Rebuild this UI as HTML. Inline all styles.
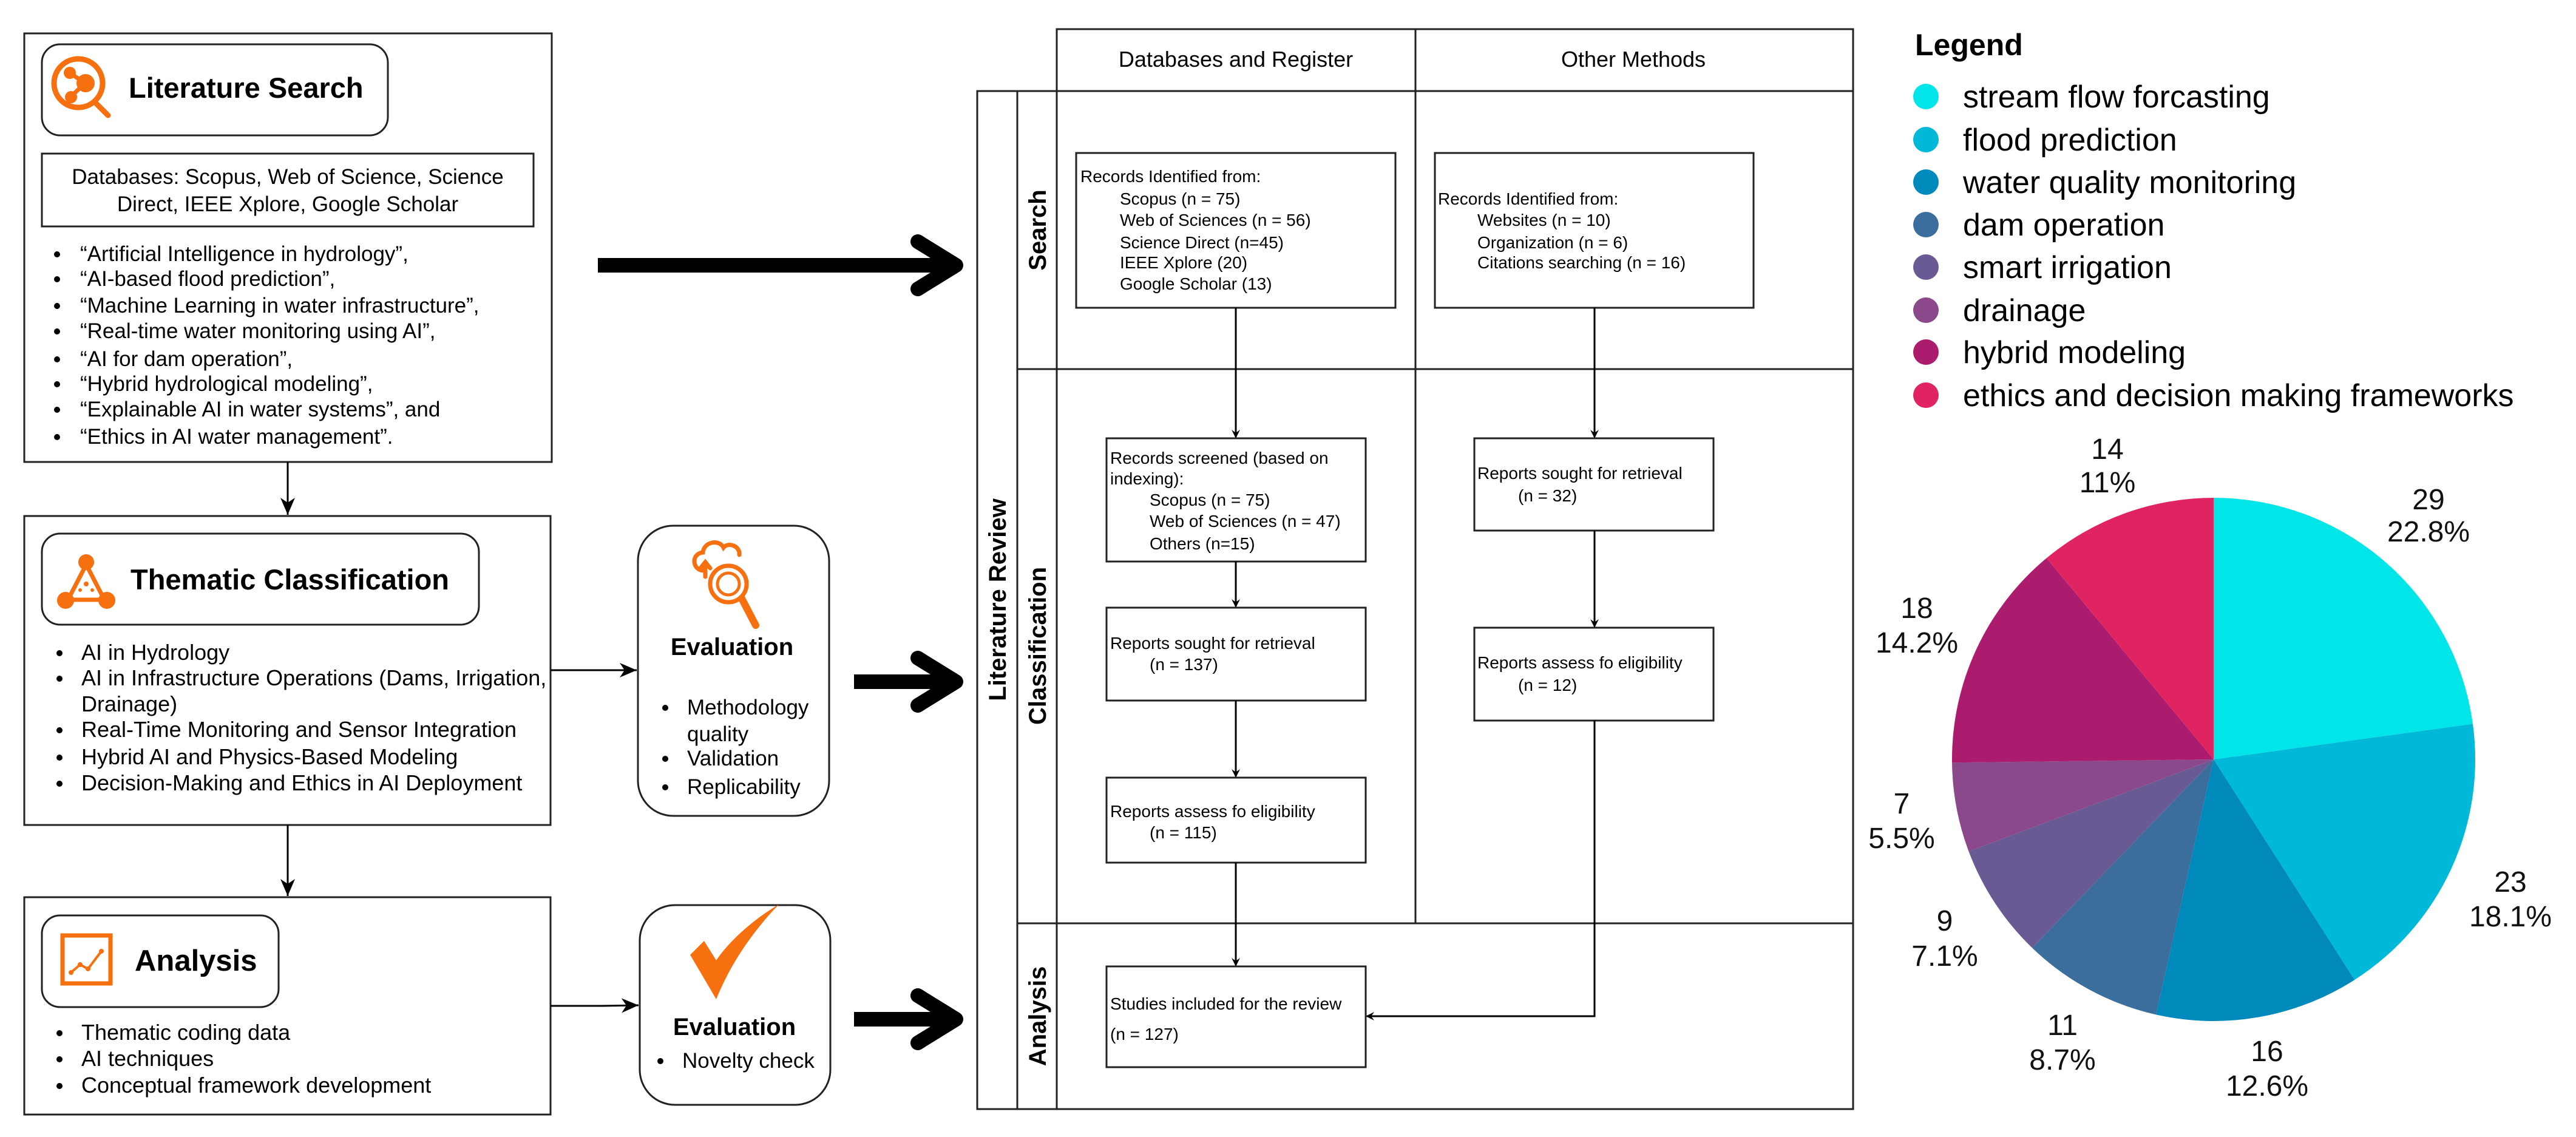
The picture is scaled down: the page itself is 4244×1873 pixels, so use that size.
<!DOCTYPE html>
<html><head><meta charset="utf-8"><style>
html,body{margin:0;padding:0;background:#fff;}
svg{display:block;font-family:"Liberation Sans",Arial,sans-serif;}
</style></head><body>
<svg width="4244" height="1873" viewBox="0 0 4244 1873" xmlns="http://www.w3.org/2000/svg">
<defs>
<marker id="ah" markerWidth="14" markerHeight="14" refX="12" refY="7" orient="auto" markerUnits="userSpaceOnUse">
<path d="M0,0 L14,7 L0,14 L5,7 Z" fill="#000"/>
</marker>
<marker id="ah2" markerWidth="30" markerHeight="30" refX="28" refY="15" orient="auto" markerUnits="userSpaceOnUse">
<path d="M0,3 L28,15 L0,27 L8,15 Z" fill="#000"/>
</marker>
</defs>
<rect width="4244" height="1873" fill="#fff"/>

<g fill="none" stroke="#222" stroke-width="3">
<rect x="40" y="55" width="869" height="706"/>
<rect x="69" y="73" width="570" height="150" rx="30"/>
<rect x="69" y="253" width="810" height="120"/>
<rect x="40" y="850" width="867" height="509"/>
<rect x="69" y="879" width="720" height="150" rx="30"/>
<rect x="40" y="1478" width="867" height="358"/>
<rect x="69" y="1508" width="390" height="151" rx="30"/>
<rect x="1051" y="866" width="315" height="478" rx="58"/>
<rect x="1054" y="1491" width="314" height="329" rx="58"/>
</g>

<g fill="#f7700f" stroke="#f7700f">
<circle cx="129" cy="137" r="40" fill="none" stroke-width="9"/>
<line x1="157" y1="169" x2="178" y2="190" stroke-width="9" stroke-linecap="round"/>
<line x1="115" y1="120" x2="140" y2="137" stroke-width="7"/>
<line x1="117" y1="159" x2="140" y2="137" stroke-width="7"/>
<circle cx="115" cy="120" r="10" stroke="none"/>
<circle cx="117" cy="160" r="10" stroke="none"/>
<circle cx="141" cy="137" r="15" stroke="none"/>
</g>
<text x="212" y="161" font-size="47" font-weight="bold">Literature Search</text>
<g font-size="35" text-anchor="middle">
<text x="474" y="303">Databases: Scopus, Web of Science, Science</text>
<text x="474" y="348">Direct, IEEE Xplore, Google Scholar</text>
</g>
<g font-size="35">
<text x="132" y="430">“Artificial Intelligence in hydrology”,</text>
<text x="132" y="471">“AI-based flood prediction”,</text>
<text x="132" y="515">“Machine Learning in water infrastructure”,</text>
<text x="132" y="557">“Real-time water monitoring using AI”,</text>
<text x="132" y="603">“AI for dam operation”,</text>
<text x="132" y="644">“Hybrid hydrological modeling”,</text>
<text x="132" y="686">“Explainable AI in water systems”, and</text>
<text x="132" y="731">“Ethics in AI water management”.</text>
</g>
<g fill="#000">
<circle cx="94" cy="419" r="5"/><circle cx="94" cy="460" r="5"/><circle cx="94" cy="504" r="5"/><circle cx="94" cy="546" r="5"/>
<circle cx="94" cy="592" r="5"/><circle cx="94" cy="633" r="5"/><circle cx="94" cy="675" r="5"/><circle cx="94" cy="720" r="5"/>
</g>

<g fill="#f7700f" stroke="#f7700f">
<path d="M142 930 L112 988 L172 988 Z" fill="none" stroke-width="7"/>
<circle cx="142" cy="926" r="13" stroke="none"/>
<circle cx="108" cy="989" r="14" stroke="none"/>
<circle cx="176" cy="989" r="14" stroke="none"/>
<circle cx="142" cy="962" r="4" stroke="none"/><circle cx="132" cy="972" r="3" stroke="none"/><circle cx="152" cy="972" r="3" stroke="none"/>
</g>
<text x="215" y="971" font-size="47" font-weight="bold">Thematic Classification</text>
<g font-size="36">
<text x="134" y="1087">AI in Hydrology</text>
<text x="134" y="1129">AI in Infrastructure Operations (Dams, Irrigation,</text>
<text x="134" y="1172">Drainage)</text>
<text x="134" y="1214">Real-Time Monitoring and Sensor Integration</text>
<text x="134" y="1259">Hybrid AI and Physics-Based Modeling</text>
<text x="134" y="1302">Decision-Making and Ethics in AI Deployment</text>
</g>
<g fill="#000">
<circle cx="98" cy="1076" r="5"/><circle cx="98" cy="1118" r="5"/><circle cx="98" cy="1203" r="5"/><circle cx="98" cy="1248" r="5"/><circle cx="98" cy="1291" r="5"/>
</g>

<rect x="103" y="1541" width="79" height="79" fill="none" stroke="#f7700f" stroke-width="7"/>
<polyline points="117,1602 132,1589 145,1596 167,1567" fill="none" stroke="#f7700f" stroke-width="4"/>
<g fill="#f7700f"><circle cx="117" cy="1602" r="4"/><circle cx="132" cy="1589" r="4"/><circle cx="145" cy="1596" r="4"/><circle cx="167" cy="1567" r="4"/></g>
<text x="222" y="1599" font-size="49" font-weight="bold">Analysis</text>
<g font-size="36">
<text x="134" y="1713">Thematic coding data</text>
<text x="134" y="1756">AI techniques</text>
<text x="134" y="1800">Conceptual framework development</text>
</g>
<g fill="#000"><circle cx="98" cy="1702" r="5"/><circle cx="98" cy="1745" r="5"/><circle cx="98" cy="1789" r="5"/></g>

<g fill="none" stroke="#f7700f" stroke-width="7" stroke-linecap="round">
<path d="M1160 940 C1140 940 1138 912 1158 910 C1160 892 1185 888 1192 902 C1200 892 1220 900 1218 914"/>
<path d="M1162 950 L1162 928 M1154 936 L1162 926 L1170 936"/>
<circle cx="1200" cy="962" r="30"/>
<circle cx="1200" cy="962" r="18" stroke-width="5"/>
<line x1="1222" y1="986" x2="1245" y2="1030" stroke-width="12"/>
</g>
<text x="1206" y="1079" font-size="40" font-weight="bold" text-anchor="middle">Evaluation</text>
<g font-size="35">
<text x="1132" y="1177">Methodology</text>
<text x="1132" y="1221">quality</text>
<text x="1132" y="1261">Validation</text>
<text x="1132" y="1308">Replicability</text>
</g>
<g fill="#000"><circle cx="1096" cy="1166" r="5"/><circle cx="1096" cy="1250" r="5"/><circle cx="1096" cy="1297" r="5"/></g>

<path d="M1137 1573 L1160 1550 L1180 1582 C1200 1552 1240 1515 1283 1490 C1240 1535 1205 1585 1180 1646 Z" fill="#f7700f"/>
<text x="1210" y="1705" font-size="40" font-weight="bold" text-anchor="middle">Evaluation</text>
<text x="1124" y="1759" font-size="35">Novelty check</text>
<circle cx="1088" cy="1748" r="5" fill="#000"/>

<g stroke="#000" stroke-width="3" fill="none" marker-end="url(#ah2)">
<line x1="474" y1="761" x2="474" y2="848"/>
<line x1="474" y1="1359" x2="474" y2="1476"/>
<line x1="907" y1="1104" x2="1049" y2="1104"/>
<path d="M907 1657 L990 1657 L1052 1656"/>
</g>

<g stroke="#000" stroke-width="24" fill="none" stroke-linejoin="round">
<line x1="985" y1="437" x2="1570" y2="437" stroke-linecap="butt"/>
<polyline points="1512,398 1575,437 1512,476" stroke-linecap="round"/>
<line x1="1407" y1="1123" x2="1570" y2="1123"/>
<polyline points="1512,1084 1575,1123 1512,1162" stroke-linecap="round"/>
<line x1="1407" y1="1679" x2="1570" y2="1679"/>
<polyline points="1512,1640 1575,1679 1512,1718" stroke-linecap="round"/>
</g>

<g fill="none" stroke="#222" stroke-width="3">
<rect x="1741" y="48" width="1312" height="102"/>
<line x1="2332" y1="48" x2="2332" y2="1521"/>
<rect x="1610" y="150" width="1443" height="1677"/>
<line x1="1676" y1="150" x2="1676" y2="1827"/>
<line x1="1741" y1="150" x2="1741" y2="1827"/>
<line x1="1676" y1="608" x2="3053" y2="608"/>
<line x1="1676" y1="1521" x2="3053" y2="1521"/>
<rect x="1773" y="252" width="526" height="255"/>
<rect x="2364" y="252" width="525" height="255"/>
<rect x="1823" y="722" width="427" height="203"/>
<rect x="2429" y="722" width="394" height="152"/>
<rect x="1823" y="1001" width="427" height="153"/>
<rect x="2429" y="1034" width="394" height="153"/>
<rect x="1823" y="1281" width="427" height="140"/>
<rect x="1823" y="1592" width="427" height="166"/>
</g>
<g font-size="36" text-anchor="middle">
<text x="2036" y="110">Databases and Register</text>
<text x="2691" y="110">Other Methods</text>
</g>
<g font-size="40" font-weight="bold" text-anchor="middle">
<text transform="translate(1657,988) rotate(-90)">Literature Review</text>
<text transform="translate(1723,379) rotate(-90)">Search</text>
<text transform="translate(1723,1064) rotate(-90)">Classification</text>
<text transform="translate(1723,1674) rotate(-90)">Analysis</text>
</g>
<g font-size="28">
<text x="1780" y="300">Records Identified from:</text>
<text x="1845" y="337">Scopus (n = 75)</text>
<text x="1845" y="372">Web of Sciences (n = 56)</text>
<text x="1845" y="409">Science Direct (n=45)</text>
<text x="1845" y="442">IEEE Xplore (20)</text>
<text x="1845" y="477">Google Scholar (13)</text>

<text x="2369" y="337">Records Identified from:</text>
<text x="2434" y="372">Websites (n = 10)</text>
<text x="2434" y="409">Organization (n = 6)</text>
<text x="2434" y="442">Citations searching (n = 16)</text>

<text x="1829" y="764">Records screened (based on</text>
<text x="1829" y="798">indexing):</text>
<text x="1894" y="833">Scopus (n = 75)</text>
<text x="1894" y="868">Web of Sciences (n = 47)</text>
<text x="1894" y="905">Others (n=15)</text>

<text x="2434" y="789">Reports sought for retrieval</text>
<text x="2501" y="826">(n = 32)</text>

<text x="1829" y="1069">Reports sought for retrieval</text>
<text x="1894" y="1104">(n = 137)</text>

<text x="2434" y="1101">Reports assess fo eligibility</text>
<text x="2501" y="1138">(n = 12)</text>

<text x="1829" y="1346">Reports assess fo eligibility</text>
<text x="1894" y="1381">(n = 115)</text>

<text x="1829" y="1663">Studies included for the review</text>
<text x="1829" y="1713">(n = 127)</text>
</g>
<g stroke="#000" stroke-width="3" fill="none" marker-end="url(#ah)">
<line x1="2036" y1="507" x2="2036" y2="720"/>
<line x1="2627" y1="507" x2="2627" y2="720"/>
<line x1="2036" y1="925" x2="2036" y2="999"/>
<line x1="2627" y1="874" x2="2627" y2="1032"/>
<line x1="2036" y1="1154" x2="2036" y2="1279"/>
<line x1="2036" y1="1421" x2="2036" y2="1590"/>
<path d="M2627 1187 L2627 1674 L2252 1674"/>
</g>

<text x="3155" y="91" font-size="50" font-weight="bold">Legend</text>
<g font-size="52">
<circle cx="3173" cy="159" r="21" fill="#00e5e8"/><text x="3234" y="177">stream flow forcasting</text>
<circle cx="3173" cy="230" r="21" fill="#00b8d8"/><text x="3234" y="248">flood prediction</text>
<circle cx="3173" cy="300" r="21" fill="#0089bb"/><text x="3234" y="318">water quality monitoring</text>
<circle cx="3173" cy="370" r="21" fill="#3b6e9c"/><text x="3234" y="388">dam operation</text>
<circle cx="3173" cy="440" r="21" fill="#6a5a94"/><text x="3234" y="458">smart irrigation</text>
<circle cx="3173" cy="511" r="21" fill="#8b498b"/><text x="3234" y="529">drainage</text>
<circle cx="3173" cy="580" r="21" fill="#ac1c6e"/><text x="3234" y="598">hybrid modeling</text>
<circle cx="3173" cy="651" r="21" fill="#e02462"/><text x="3234" y="669">ethics and decision making frameworks</text>
</g>

<g>
<path d="M3647 1251 L3647 820 A431 431 0 0 1 4074 1192.5 Z" fill="#00e5e8"/>
<path d="M3647 1251 L4074 1192.5 A431 431 0 0 1 3879.2 1614.1 Z" fill="#00b8d8"/>
<path d="M3647 1251 L3879.2 1614.1 A431 431 0 0 1 3551.9 1671.4 Z" fill="#0089bb"/>
<path d="M3647 1251 L3551.9 1671.4 A431 431 0 0 1 3348.1 1561.5 Z" fill="#3b6e9c"/>
<path d="M3647 1251 L3348.1 1561.5 A431 431 0 0 1 3243.5 1402.6 Z" fill="#6a5a94"/>
<path d="M3647 1251 L3243.5 1402.6 A431 431 0 0 1 3216 1256.3 Z" fill="#8b498b"/>
<path d="M3647 1251 L3216 1256.3 A431 431 0 0 1 3371.7 919.4 Z" fill="#ac1c6e"/>
<path d="M3647 1251 L3371.7 919.4 A431 431 0 0 1 3647 820 Z" fill="#e02462"/>
</g>
<g font-size="48" text-anchor="middle" fill="#111">
<text x="4001" y="839">29</text><text x="4001" y="892">22.8%</text>
<text x="4136" y="1469">23</text><text x="4136" y="1526">18.1%</text>
<text x="3735" y="1748">16</text><text x="3735" y="1805">12.6%</text>
<text x="3398" y="1705">11</text><text x="3398" y="1762">8.7%</text>
<text x="3204" y="1533">9</text><text x="3204" y="1591">7.1%</text>
<text x="3133" y="1340">7</text><text x="3133" y="1397">5.5%</text>
<text x="3158" y="1018">18</text><text x="3158" y="1075">14.2%</text>
<text x="3472" y="756">14</text><text x="3472" y="811">11%</text>
</g>
</svg>
</body></html>
